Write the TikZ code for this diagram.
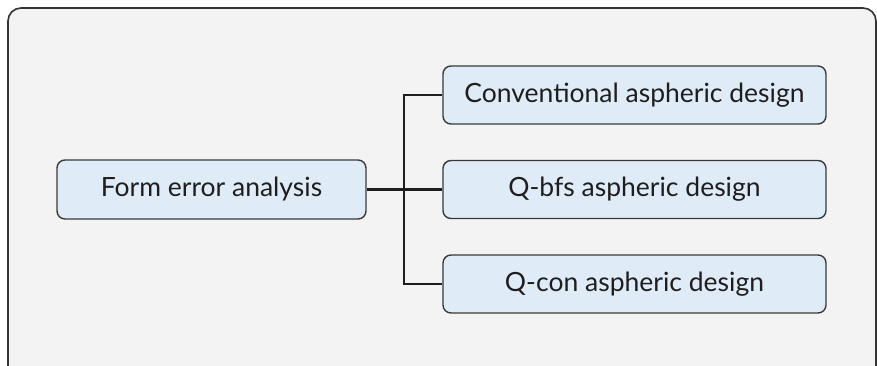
\documentclass[tikz,border=0pt]{standalone}
\usepackage{fontspec}
\setmainfont{Lato}
\definecolor{bgfill}{HTML}{F2F3F2}
\definecolor{frame}{HTML}{333333}
\definecolor{boxfill}{HTML}{DFECF8}
\definecolor{boxline}{HTML}{3A3A3A}
\definecolor{linkcol}{HTML}{1E1E1E}
\definecolor{textcol}{HTML}{1E1E1E}
\begin{document}
\begin{tikzpicture}[x=1pt,y=-1pt,
  box/.style={draw=boxline, fill=boxfill, line width=1.4pt, rounded corners=8pt,
    inner sep=0pt, font=\fontsize{26.5}{30}\selectfont, text=textcol},
  srcbox/.style={box, minimum width=309pt, minimum height=59pt},
  leafbox/.style={box, minimum width=383pt, minimum height=58pt},
  link/.style={draw=linkcol, line width=2.8pt}]
\useasboundingbox (0,0) rectangle (877,365);
\clip (0,0) rectangle (877,365);
% panel
\draw[fill=bgfill, draw=frame, line width=1.6pt, rounded corners=13pt] (8,8) rectangle (876,380);
% boxes
\node[srcbox] (src) at (211.5,189.5) {Form error analysis};
\node[leafbox] (conv) at (634.5,95) {Conventional aspheric design};
\node[leafbox] (qbfs) at (634.5,189.5) {Q-bfs aspheric design};
\node[leafbox] (qcon) at (634.5,284) {Q-con aspheric design};
% connectors
\coordinate (fork) at (404,189.5);
\draw[link] (conv.west) -| (fork) |- (qcon.west);
\draw[link] (src.east) -- (qbfs.west);
\end{tikzpicture}
\end{document}
